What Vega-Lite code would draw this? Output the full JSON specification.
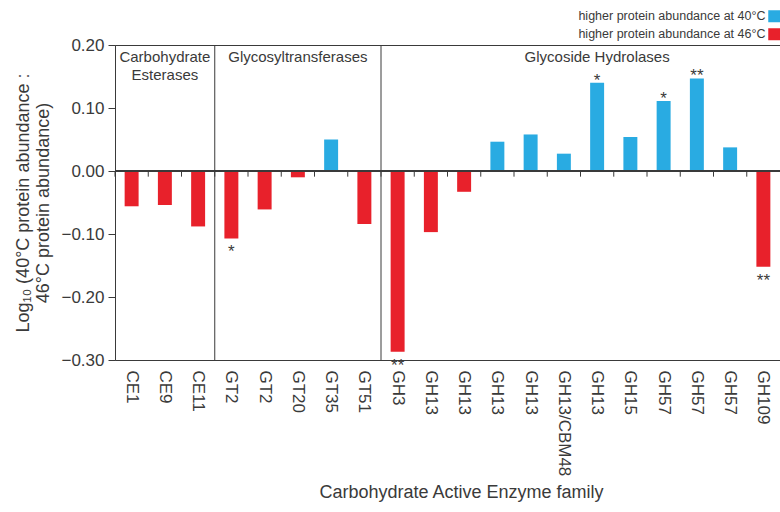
{
  "$schema": "https://vega.github.io/schema/vega-lite/v6.json",
  "width": 665,
  "height": 315,
  "autosize": "none",
  "padding": {"left": 115, "top": 45, "right": 0, "bottom": 152},
  "background": "white",
  "config": {
    "font": "Liberation Sans",
    "view": {"stroke": "#3a3a3a", "strokeWidth": 1},
    "axis": {"labelColor": "#3a3a3a", "titleColor": "#3a3a3a", "domainColor": "#3a3a3a", "tickColor": "#3a3a3a", "labelFont": "Liberation Sans", "titleFont": "Liberation Sans", "titleFontWeight": "normal", "grid": false},
    "text": {"font": "Liberation Sans", "color": "#3a3a3a"}
  },
  "data": {
    "values": [
      {"id": "CE1", "value": -0.056, "dir": "higher protein abundance at 46°C", "sig": ""},
      {"id": "CE9", "value": -0.054, "dir": "higher protein abundance at 46°C", "sig": ""},
      {"id": "CE11", "value": -0.088, "dir": "higher protein abundance at 46°C", "sig": ""},
      {"id": "GT2", "value": -0.107, "dir": "higher protein abundance at 46°C", "sig": "*"},
      {"id": "GT2#2", "value": -0.061, "dir": "higher protein abundance at 46°C", "sig": ""},
      {"id": "GT20", "value": -0.010, "dir": "higher protein abundance at 46°C", "sig": ""},
      {"id": "GT35", "value": 0.050, "dir": "higher protein abundance at 40°C", "sig": ""},
      {"id": "GT51", "value": -0.084, "dir": "higher protein abundance at 46°C", "sig": ""},
      {"id": "GH3", "value": -0.287, "dir": "higher protein abundance at 46°C", "sig": "**"},
      {"id": "GH13", "value": -0.097, "dir": "higher protein abundance at 46°C", "sig": ""},
      {"id": "GH13#2", "value": -0.033, "dir": "higher protein abundance at 46°C", "sig": ""},
      {"id": "GH13#3", "value": 0.0465, "dir": "higher protein abundance at 40°C", "sig": ""},
      {"id": "GH13#4", "value": 0.058, "dir": "higher protein abundance at 40°C", "sig": ""},
      {"id": "GH13/CBM48", "value": 0.0275, "dir": "higher protein abundance at 40°C", "sig": ""},
      {"id": "GH13#5", "value": 0.140, "dir": "higher protein abundance at 40°C", "sig": "*"},
      {"id": "GH15", "value": 0.054, "dir": "higher protein abundance at 40°C", "sig": ""},
      {"id": "GH57", "value": 0.111, "dir": "higher protein abundance at 40°C", "sig": "*"},
      {"id": "GH57#2", "value": 0.147, "dir": "higher protein abundance at 40°C", "sig": "**"},
      {"id": "GH57#3", "value": 0.0375, "dir": "higher protein abundance at 40°C", "sig": ""},
      {"id": "GH109", "value": -0.152, "dir": "higher protein abundance at 46°C", "sig": "**"}
    ]
  },
  "layer": [
    {
      "mark": {"type": "bar", "width": {"band": 0.42}},
      "encoding": {
        "x": {
          "field": "id", "type": "nominal", "sort": null,
          "scale": {"domain": ["CE1", "CE9", "CE11", "GT2", "GT2#2", "GT20", "GT35", "GT51", "GH3", "GH13", "GH13#2", "GH13#3", "GH13#4", "GH13/CBM48", "GH13#5", "GH15", "GH57", "GH57#2", "GH57#3", "GH109"], "paddingInner": 0, "paddingOuter": 0},
          "axis": {"orient": "bottom", "title": "Carbohydrate Active Enzyme family", "titleFontSize": 18, "titlePadding": 8, "titleX": 346, "labelAngle": 90, "labelAlign": "left", "labelBaseline": "middle", "labelFontSize": 17, "labelPadding": 10, "ticks": false, "domain": false, "labelExpr": "split(datum.label, '#')[0]"}
        },
        "y": {
          "field": "value", "type": "quantitative",
          "scale": {"domain": [-0.3, 0.2], "nice": false, "zero": false},
          "axis": {"values": [-0.3, -0.2, -0.1, 0, 0.1, 0.2], "format": ".2f", "labelFontSize": 17, "tickSize": 7, "labelPadding": 4, "title": ["Log₁₀ (40°C protein abundance :", "46°C protein abundance)"], "titleFontSize": 18, "titlePadding": 8, "titleLineHeight": 20}
        },
        "color": {
          "field": "dir", "type": "nominal",
          "scale": {"domain": ["higher protein abundance at 40°C", "higher protein abundance at 46°C"], "range": ["#29abe2", "#e8212b"]},
          "legend": {"title": null, "orient": "none", "legendX": 653, "legendY": -35, "padding": 0, "symbolType": "square", "symbolSize": 144, "symbolStrokeWidth": 0, "labelAlign": "right", "labelOffset": -15, "labelFontSize": 12.5, "labelLimit": 400, "labelColor": "#3a3a3a", "rowPadding": 5}
        }
      }
    },
    {
      "mark": {"type": "rule", "color": "#3a3a3a", "strokeWidth": 1},
      "encoding": {"y": {"datum": 0}}
    },
    {
      "mark": {"type": "rule", "color": "#3a3a3a", "strokeWidth": 1},
      "encoding": {
        "x": {"field": "id", "type": "nominal", "bandPosition": 0, "axis": null},
        "y": {"datum": 0},
        "y2": {"datum": -0.009}
      }
    },
    {
      "data": {"values": [{"at": "GT2"}, {"at": "GH3"}]},
      "mark": {"type": "rule", "color": "#3a3a3a", "strokeWidth": 1},
      "encoding": {"x": {"field": "at", "type": "nominal", "bandPosition": 0, "axis": null}}
    },
    {
      "transform": [{"filter": "datum.sig != '' && datum.value > 0"}],
      "mark": {"type": "text", "baseline": "alphabetic", "dy": 3, "fontSize": 17},
      "encoding": {
        "x": {"field": "id", "type": "nominal", "axis": null},
        "y": {"field": "value", "type": "quantitative"},
        "text": {"field": "sig"}
      }
    },
    {
      "transform": [{"filter": "datum.sig != '' && datum.value < 0"}],
      "mark": {"type": "text", "baseline": "top", "dy": 6, "fontSize": 17},
      "encoding": {
        "x": {"field": "id", "type": "nominal", "axis": null},
        "y": {"field": "value", "type": "quantitative"},
        "text": {"field": "sig"}
      }
    },
    {
      "data": {"values": [
        {"name": ["Carbohydrate", "Esterases"], "at": "CE9", "y": 0.2},
        {"name": ["Glycosyltransferases"], "at": "GT20", "y": 0.2},
        {"name": ["Glycoside Hydrolases"], "at": "GH13#5", "y": 0.2}
      ]},
      "mark": {"type": "text", "baseline": "top", "dy": 5, "fontSize": 15, "lineHeight": 18},
      "encoding": {
        "x": {"field": "at", "type": "nominal", "bandPosition": 0.5, "axis": null},
        "y": {"field": "y", "type": "quantitative"},
        "text": {"field": "name"}
      }
    }
  ],
  "resolve": {"axis": {"x": "independent"}}
}
